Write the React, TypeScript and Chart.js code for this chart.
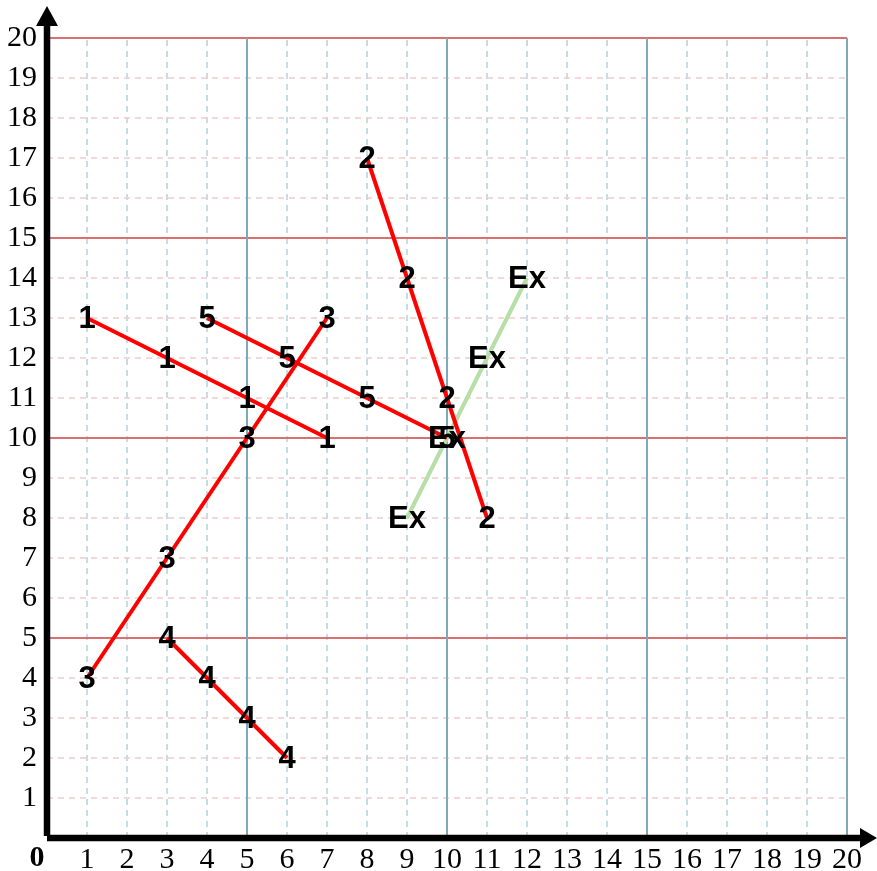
import { useEffect, useRef } from 'react';
import { Chart, registerables } from 'chart.js';

Chart.register(...registerables);

const axisTicks = [0, 1, 2, 3, 4, 5, 6, 7, 8, 9, 10, 11, 12, 13, 14, 15, 16, 17, 18, 19, 20];

const s1X = [1, 3, 5, 7];
const s1Y = [13, 12, 11, 10];
const s2X = [8, 9, 10, 11];
const s2Y = [17, 14, 11, 8];
const s3X = [1, 3, 5, 7];
const s3Y = [4, 7, 10, 13];
const s4X = [3, 4, 5, 6];
const s4Y = [5, 4, 3, 2];
const s5X = [4, 6, 8, 10];
const s5Y = [13, 12, 11, 10];
const exX = [9, 10, 11, 12];
const exY = [8, 10, 12, 14];

const seriesNames = ['1', '2', '3', '4', '5', 'Ex'];
const seriesXs = [s1X, s2X, s3X, s4X, s5X, exX];
const seriesYs = [s1Y, s2Y, s3Y, s4Y, s5Y, exY];
const seriesColors = ['#ff0000', '#ff0000', '#ff0000', '#ff0000', '#ff0000', '#b7dea6'];

const gridPlugin = {
  id: 'customGrid',
  beforeDatasetsDraw(chart: any) {
    const ctx = chart.ctx;
    const xs = chart.scales.x;
    const ys = chart.scales.y;
    const area = chart.chartArea;
    ctx.save();
    axisTicks.forEach((v) => {
      if (v === 0 || v % 5 === 0) return;
      const px = xs.getPixelForValue(v);
      ctx.beginPath();
      ctx.setLineDash([6, 5]);
      ctx.strokeStyle = '#b5d2dc';
      ctx.lineWidth = 1.5;
      ctx.moveTo(px, area.bottom);
      ctx.lineTo(px, area.top);
      ctx.stroke();
      const py = ys.getPixelForValue(v);
      ctx.beginPath();
      ctx.strokeStyle = '#f1cccc';
      ctx.moveTo(area.left, py);
      ctx.lineTo(area.right, py);
      ctx.stroke();
    });
    ctx.setLineDash([]);
    axisTicks.forEach((v) => {
      if (v === 0 || v % 5 !== 0) return;
      const py = ys.getPixelForValue(v);
      ctx.beginPath();
      ctx.strokeStyle = '#db6e6e';
      ctx.lineWidth = 2;
      ctx.moveTo(area.left, py);
      ctx.lineTo(area.right, py);
      ctx.stroke();
    });
    axisTicks.forEach((v) => {
      if (v === 0 || v % 5 !== 0) return;
      const px = xs.getPixelForValue(v);
      ctx.beginPath();
      ctx.strokeStyle = '#7eaabb';
      ctx.lineWidth = 2;
      ctx.moveTo(px, area.bottom);
      ctx.lineTo(px, area.top);
      ctx.stroke();
    });
    const x0 = xs.getPixelForValue(0);
    const y0 = ys.getPixelForValue(0);
    ctx.fillStyle = '#000';
    ctx.strokeStyle = '#000';
    ctx.lineWidth = 6.5;
    ctx.beginPath();
    ctx.moveTo(x0, y0 - 2);
    ctx.lineTo(x0, 22);
    ctx.stroke();
    ctx.beginPath();
    ctx.moveTo(x0, y0);
    ctx.lineTo(chart.width - 12, y0);
    ctx.stroke();
    ctx.beginPath();
    ctx.moveTo(x0, 6);
    ctx.lineTo(x0 - 11, 26);
    ctx.lineTo(x0 + 11, 26);
    ctx.closePath();
    ctx.fill();
    ctx.beginPath();
    ctx.moveTo(chart.width, y0);
    ctx.lineTo(chart.width - 17, y0 - 10);
    ctx.lineTo(chart.width - 17, y0 + 10);
    ctx.closePath();
    ctx.fill();
    ctx.font = 'bold 30px "Liberation Serif", serif';
    ctx.textAlign = 'center';
    ctx.textBaseline = 'middle';
    ctx.fillText('0', x0 - 10, y0 + 20);
    ctx.restore();
  },
  afterDatasetsDraw(chart: any) {
    const ctx = chart.ctx;
    ctx.save();
    ctx.font = 'bold 31px "Liberation Sans", Arial, sans-serif';
    ctx.fillStyle = '#000';
    ctx.textAlign = 'center';
    ctx.textBaseline = 'middle';
    chart.data.datasets.forEach((ds: any, i: number) => {
      const meta = chart.getDatasetMeta(i);
      meta.data.forEach((pt: any) => {
        ctx.fillText(ds.label, pt.x, pt.y + 1);
      });
    });
    ctx.restore();
  },
};

export default function App() {
  const ref = useRef<HTMLCanvasElement | null>(null);
  useEffect(() => {
    if (!ref.current) return;
    const datasets = seriesNames.map((name, i) => ({
      label: name,
      data: seriesXs[i].map((x, j) => ({ x, y: seriesYs[i][j] })),
      showLine: true,
      borderColor: seriesColors[i],
      backgroundColor: seriesColors[i],
      borderWidth: 4,
      pointRadius: 0,
      tension: 0,
    }));
    const tickFont = { family: '"Liberation Serif", "Times New Roman", serif', size: 30 };
    const chart = new Chart(ref.current, {
      type: 'scatter',
      data: { datasets },
      options: {
        responsive: false,
        animation: false,
        layout: { padding: { top: 38, right: 30, left: 0, bottom: 0 } },
        plugins: { legend: { display: false }, tooltip: { enabled: false } },
        scales: {
          x: {
            type: 'linear',
            min: 0,
            max: 20,
            afterFit: (s: any) => { s.height = 33; },
            afterBuildTicks: (s: any) => { s.ticks = axisTicks.map((v) => ({ value: v })); },
            ticks: {
              stepSize: 1,
              autoSkip: false,
              maxRotation: 0,
              padding: 4,
              color: '#000',
              font: tickFont,
              callback: (v: any) => (v === 0 ? '' : String(v)),
            },
            grid: { display: false, drawTicks: false },
            border: { display: false },
          },
          y: {
            type: 'linear',
            min: 0,
            max: 20,
            afterFit: (s: any) => { s.width = 47; },
            afterBuildTicks: (s: any) => { s.ticks = axisTicks.map((v) => ({ value: v })); },
            ticks: {
              stepSize: 1,
              autoSkip: false,
              padding: 10,
              color: '#000',
              font: tickFont,
              callback: (v: any) => (v === 0 ? '' : String(v)),
            },
            grid: { display: false, drawTicks: false },
            border: { display: false },
          },
        },
      },
      plugins: [gridPlugin],
    });
    return () => chart.destroy();
  }, []);
  return (
    <div style={{ position: 'absolute', left: 0, top: 0, width: 877, height: 871, background: '#fff' }}>
      <canvas ref={ref} width={877} height={871} style={{ display: 'block' }} />
    </div>
  );
}
